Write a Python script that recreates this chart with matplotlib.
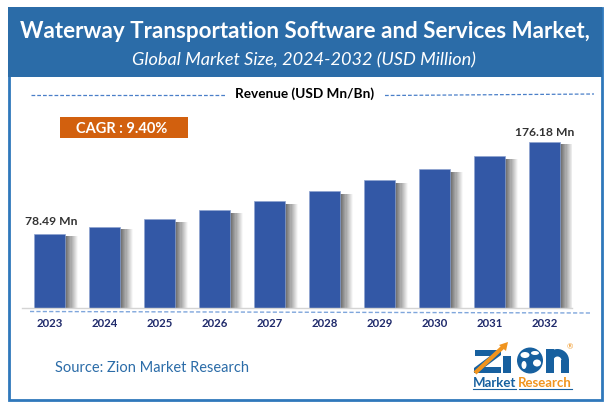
import numpy as np
import matplotlib
matplotlib.use("Agg")
import matplotlib.pyplot as plt
from matplotlib.patches import Rectangle, Circle, Ellipse, Polygon, Wedge

years = ["2023", "2024", "2025", "2026", "2027", "2028", "2029", "2030", "2031", "2032"]
revenue = [78.49, 85.9, 93.9, 103.2, 112.6, 123.2, 134.9, 146.6, 160.4, 176.18]
first_label = "78.49 Mn"
last_label = "176.18 Mn"

plt.rcParams['font.family'] = ['Lato', 'DejaVu Sans']
W, H = 610, 410
fig = plt.figure(figsize=(W / 100, H / 100), dpi=100, facecolor="white")

# pixel overlay
ov = fig.add_axes([0, 0, 1, 1], zorder=3)
ov.set_xlim(0, W); ov.set_ylim(H, 0); ov.axis("off"); ov.patch.set_alpha(0)
BLUE = "#2b6ca8"
ov.add_patch(Rectangle((8.5, 8.5), 593, 392, fill=False, ec="#2f78bb", lw=2))
ov.add_patch(Rectangle((8, 8), 594, 70, fc=BLUE, ec="none"))
ov.text(305, 31, "Waterway Transportation Software and Services Market,", color="white",
        fontsize=16.1, fontweight="bold", ha="center", va="center")
ov.text(304, 60, "Global Market Size, 2024-2032 (USD Million)", color="white",
        fontsize=13.1, fontstyle="italic", ha="center", va="center")
ov.text(305, 94, "Revenue (USD Mn/Bn)", color="black", fontsize=9.8, fontweight="bold", ha="center", va="center")
dash = dict(color="#4a7fc8", lw=0.9, ls=(0, (3, 1.6)))
ov.plot([31, 225], [96, 96], **dash)
ov.plot([385, 594], [96.5, 95], **dash)
ov.plot([30, 592], [312.5, 314], color="#7fa6dc", lw=1.0, ls=(0, (3, 1.6)))

ov.add_patch(Rectangle((60, 118), 128, 21, fc="#d2600e", ec="none"))
ov.text(122, 129, "CAGR : 9.40%", color="white", fontsize=10.5, fontweight="bold", ha="center", va="center")
ov.text(55, 368, "Source: Zion Market Research", color=BLUE, fontsize=10.5, va="center")

# logo
LB = "#17609f"
OR = "#f0941e"
ov.add_patch(Polygon([[475, 351], [501, 351], [501, 356], [485, 368], [501, 368], [501, 374],
                      [474, 374], [474, 369], [490, 357], [475, 357]], fc=LB, ec="none"))
ov.add_patch(Rectangle((503, 357), 8, 17, fc=LB, ec="none"))
ov.add_patch(Circle((530, 361.5), 13, fc=LB, ec="none"))
for cx, cy, ew, eh in [(525, 356, 9, 6), (535, 354, 8, 4), (524, 366, 5, 8), (537, 364, 8, 7)]:
    ov.add_patch(Ellipse((cx, cy), ew, eh, fc="white", ec="none"))
ov.add_patch(Rectangle((546, 350), 8, 24, fc=LB, ec="none"))
ov.add_patch(Rectangle((561, 361), 8, 13, fc=LB, ec="none"))
ov.add_patch(Wedge((557.5, 361.5), 11.5, 180, 360, width=7.5, fc=LB, ec="none"))
ov.plot([475, 503], [374, 348], color=OR, lw=3, solid_capstyle="butt")
ov.add_patch(Polygon([[499, 346], [508, 343], [506, 352]], fc=OR, ec="none"))
ov.text(495, 383, "Market", color=LB, fontsize=9.5, fontweight="bold", ha="center", va="center")
ov.text(545, 383, "Research", color=OR, fontsize=9.5, fontweight="bold", ha="center", va="center")
ov.plot([473, 516], [389.5, 389.5], color=LB, lw=0.8)
ov.plot([519, 572], [389.5, 389.5], color=LB, lw=0.8)
ov.text(569.5, 347, "®", color=OR, fontsize=5.5, ha="center", va="center")

# chart axes: baseline y=308.5, x 22..572
base = 308.5
top = 130
ax = fig.add_axes([22 / W, 1 - base / H, 550 / W, (base - top) / H], zorder=2)
ax.patch.set_alpha(0)
px_per_unit = 166 / 176.18
ax.set_xlim(-0.5, 9.5)
ax.set_ylim(0, (base - top) / px_per_unit)
x = np.arange(len(years))
w = 0.565
# soft shadow right of bars
steps = 12
shadow_w = 13 / 55
for k in range(steps):
    off = w / 2 + (k + 0.5) * shadow_w / steps
    shade = 0.62 * (1 - (k + 0.5) / steps)
    ax.bar(x + off, np.array(revenue) - 3, width=shadow_w / steps, color="black",
           alpha=shade, lw=0, zorder=1, antialiased=False)
ax.bar(x, revenue, width=w, color="#3358a6", edgecolor="#8ea3d0", linewidth=0.5, zorder=2)
for s in ["top", "left", "right"]:
    ax.spines[s].set_visible(False)
ax.spines["bottom"].set_color("#d4d4d4")
ax.spines["bottom"].set_linewidth(1)
ax.set_yticks([])
ax.set_xticks(x)
ax.set_xticklabels(years, fontsize=8.2, fontweight="bold", color="#1f2a6b")
ax.tick_params(axis="x", length=0, pad=7)
ax.annotate(first_label, (x[0], revenue[0]), xytext=(1, 5.5), textcoords="offset points",
            ha="center", va="bottom", fontsize=8.7, fontweight="bold", color="#333333")
ax.annotate(last_label, (x[-1], revenue[-1]), xytext=(0, 3.5), textcoords="offset points",
            ha="center", va="bottom", fontsize=8.7, fontweight="bold", color="#333333")

fig.savefig("out.png", dpi=100)
